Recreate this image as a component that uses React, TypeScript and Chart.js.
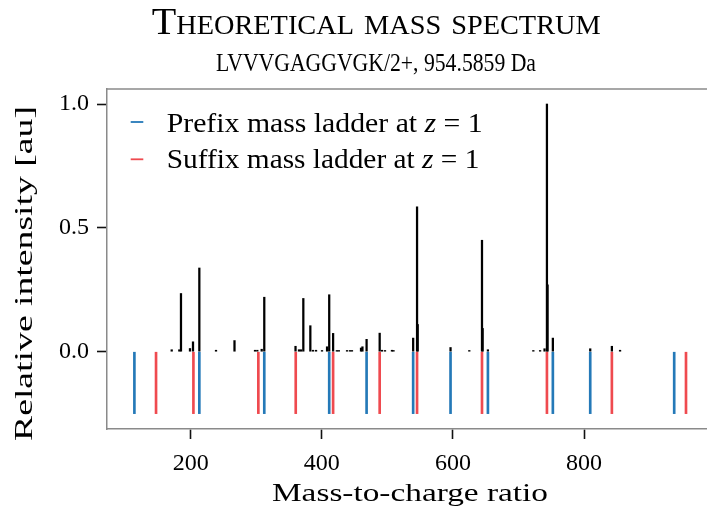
import React, { useEffect, useRef } from 'react';
import { Chart, registerables } from 'chart.js';

Chart.register(...registerables);

// ---------- data ----------
const peakMz = [
  171.0, 182.6, 185.16, 198.9, 203.5, 213.16, 238.6, 266.8, 298.1, 301.6, 308.3, 312.23,
  359.9, 365.2, 368.3, 371.8, 382.5, 386.6, 391.2, 400.3, 408.0, 411.3, 417.24, 423.0,
  426.0, 438.5, 443.0, 446.0, 459.8, 462.0, 468.32, 488.28, 491.8, 496.4, 507.0, 509.4,
  539.36, 545.3, 546.3, 596.38, 625.0, 644.37, 645.37, 653.4, 722.7, 733.0, 739.8,
  743.44, 744.44, 752.47, 809.49, 842.51, 855.0,
];
const peakIntensity = [
  0.008, 0.008, 0.235, 0.013, 0.04, 0.338, 0.006, 0.045, 0.006, 0.006, 0.01, 0.22,
  0.022, 0.008, 0.008, 0.215, 0.105, 0.006, 0.006, 0.005, 0.02, 0.23, 0.074, 0.005,
  0.005, 0.005, 0.005, 0.005, 0.015, 0.02, 0.05, 0.075, 0.006, 0.005, 0.006, 0.005,
  0.055, 0.585, 0.11, 0.017, 0.005, 0.45, 0.094, 0.008, 0.005, 0.005, 0.012,
  1.0, 0.27, 0.055, 0.012, 0.022, 0.006,
];
const prefixMz = [114.09, 213.16, 312.23, 411.3, 468.32, 539.36, 596.38, 653.4, 752.47, 809.49, 937.59];
const suffixMz = [147.11, 204.13, 303.2, 360.22, 417.24, 488.28, 545.3, 644.37, 743.44, 842.51, 955.59];
const ladderDepth = -0.25;
const xTickValues = [200, 400, 600, 800];
const yTickValues = [0, 0.5, 1.0];
const titleText = 'Theoretical mass spectrum';
const subtitleText = 'LVVVGAGGVGK/2+, 954.5859 Da';
const legendPrefix = ['Prefix mass ladder at ', 'Suffix mass ladder at '];
const legendMath = ['z', ' = 1'];
const xLabel = 'Mass-to-charge ratio';
const yLabel = 'Relative intensity [au]';

// ---------- styles ----------
const FAMILY = '"Liberation Serif", "DejaVu Serif", serif';
const BLUE = '#2479b8';
const RED = '#ef4a4f';
const SPINE = '#8a8a8a';

type Run = { text: string; size: number; italic?: boolean };

function fontOf(r: Run) {
  return `${r.italic ? 'italic ' : ''}${r.size}px ${FAMILY}`;
}

function drawRuns(ctx: CanvasRenderingContext2D, runs: Run[], x: number, y: number, targetWidth: number, align: 'left' | 'center') {
  let total = 0;
  const widths = runs.map((r) => {
    ctx.font = fontOf(r);
    const w = ctx.measureText(r.text).width;
    total += w;
    return w;
  });
  const sx = targetWidth / total;
  const startX = align === 'center' ? x - targetWidth / 2 : x;
  ctx.save();
  ctx.translate(startX, y);
  ctx.scale(sx, 1);
  ctx.textBaseline = 'alphabetic';
  ctx.textAlign = 'left';
  ctx.fillStyle = '#000';
  let cx = 0;
  runs.forEach((r, i) => {
    ctx.font = fontOf(r);
    ctx.fillText(r.text, cx, 0);
    cx += widths[i];
  });
  ctx.restore();
}

function smallCapsRuns(text: string, big: number, small: number): Run[] {
  const runs: Run[] = [];
  for (const ch of text) {
    const isLower = ch !== ch.toUpperCase();
    const size = isLower ? small : big;
    const t = ch.toUpperCase();
    const last = runs[runs.length - 1];
    if (last && last.size === size) last.text += t;
    else runs.push({ text: t, size });
  }
  return runs;
}

const annotations = {
  id: 'annotations',
  afterDraw(chart: any) {
    const ctx: CanvasRenderingContext2D = chart.ctx;
    const area = chart.chartArea;
    ctx.save();
    // top spine
    ctx.strokeStyle = SPINE;
    ctx.lineWidth = 1.5;
    ctx.beginPath();
    ctx.moveTo(area.left - 0.75, area.top);
    ctx.lineTo(area.right, area.top);
    ctx.stroke();

    // title + subtitle
    drawRuns(ctx, smallCapsRuns(titleText, 37.8, 26.7), 151.7, 34.3, 449, 'left');
    drawRuns(ctx, [{ text: subtitleText, size: 24.2 }], 216, 71, 320, 'left');

    // legend
    const colors = [BLUE, RED];
    const handleY = [122, 159.3];
    const textY = [131.7, 168.3];
    const widths = [316, 312.6];
    for (let i = 0; i < 2; i++) {
      ctx.strokeStyle = colors[i];
      ctx.lineWidth = 1.8;
      ctx.beginPath();
      ctx.moveTo(130.7, handleY[i]);
      ctx.lineTo(143.3, handleY[i]);
      ctx.stroke();
      drawRuns(
        ctx,
        [
          { text: legendPrefix[i], size: 26.7 },
          { text: legendMath[0], size: 26.7, italic: true },
          { text: legendMath[1], size: 26.7 },
        ],
        166.7,
        textY[i],
        widths[i],
        'left'
      );
    }

    // axis labels
    drawRuns(ctx, [{ text: xLabel, size: 26 }], 272, 501, 276, 'left');
    ctx.save();
    ctx.translate(32, 273.5);
    ctx.rotate(-Math.PI / 2);
    drawRuns(ctx, [{ text: yLabel, size: 26 }], 0, 0, 335, 'center');
    ctx.restore();
    ctx.restore();
  },
};

export default function App() {
  const ref = useRef<HTMLCanvasElement>(null);

  useEffect(() => {
    if (!ref.current) return;
    const peaks = peakMz.map((m, i) => ({ x: m, y: [0, peakIntensity[i]] }));
    const prefix = prefixMz.map((m) => ({ x: m, y: [ladderDepth, 0] }));
    const suffix = suffixMz.map((m) => ({ x: m, y: [ladderDepth, 0] }));

    const chart = new Chart(ref.current, {
      type: 'bar',
      data: {
        datasets: [
          { label: 'Prefix', data: prefix as any, backgroundColor: BLUE, barThickness: 2, grouped: false },
          { label: 'Suffix', data: suffix as any, backgroundColor: RED, barThickness: 2, grouped: false },
          { label: 'Spectrum', data: peaks as any, backgroundColor: '#000', barThickness: 1.6, grouped: false },
        ],
      },
      options: {
        animation: false,
        responsive: false,
        events: [],
        layout: { padding: { top: 89, left: 0, right: 0, bottom: 0 } },
        plugins: { legend: { display: false }, tooltip: { enabled: false }, title: { display: false } },
        scales: {
          x: {
            type: 'linear',
            min: 72.3,
            max: 72.3 + 600 / 0.6555,
            offset: false,
            grid: { display: true, offset: false, drawOnChartArea: false, drawTicks: true, tickLength: 10, tickColor: '#111', tickWidth: 1.6 },
            border: { display: true, color: SPINE, width: 1.5 },
            ticks: { color: '#000', font: { family: FAMILY, size: 24 }, padding: 10, maxRotation: 0 },
            afterBuildTicks: (scale: any) => {
              scale.ticks = xTickValues.map((v) => ({ value: v }));
            },
            afterFit: (scale: any) => {
              scale.height = 79;
            },
          },
          y: {
            type: 'linear',
            min: -0.312,
            max: 1.0606,
            grid: { display: true, offset: false, drawOnChartArea: false, drawTicks: true, tickLength: 10, tickColor: '#111', tickWidth: 1.6 },
            border: { display: true, color: SPINE, width: 1.5 },
            ticks: {
              color: '#000',
              font: { family: FAMILY, size: 24 },
              padding: 8,
              callback: (v: any) => Number(v).toFixed(1),
            },
            afterBuildTicks: (scale: any) => {
              scale.ticks = yTickValues.map((v) => ({ value: v }));
            },
            afterFit: (scale: any) => {
              scale.width = 107;
            },
          },
        },
      },
      plugins: [annotations],
    });
    return () => chart.destroy();
  }, []);

  return (
    <div style={{ position: 'fixed', left: 0, top: 0, width: 707, height: 508, background: '#fff' }}>
      <canvas ref={ref} width={707} height={508} style={{ display: 'block' }} />
    </div>
  );
}
